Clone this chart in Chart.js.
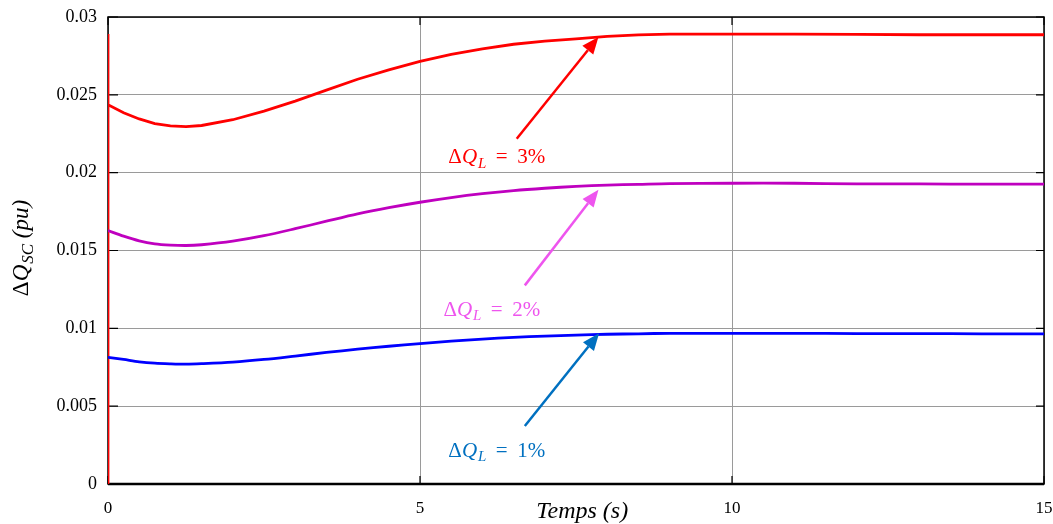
<!DOCTYPE html>
<html><head><meta charset="utf-8">
<script src="https://cdn.jsdelivr.net/npm/chart.js@4.4.1/dist/chart.umd.min.js"></script>
<style>html,body{margin:0;padding:0;background:#fff}#wrap{width:1053px;height:524px}</style>
</head><body><div id="wrap"><canvas id="c" width="1053" height="524"></canvas></div>
<script>
const times = [0,0.25,0.5,0.75,1,1.25,1.5,2,2.5,3,3.5,4,4.5,5,5.5,6,6.5,7,7.5,8,8.5,9,10,11,12,13,14,15];
const dq3 = [0.02436,0.02385,0.02345,0.02315,0.02300,0.02296,0.02303,0.02340,0.02395,0.02460,0.02530,0.02600,0.02660,0.02715,0.02760,0.02795,0.02825,0.02845,0.02860,0.02875,0.02885,0.0289,0.0289,0.0289,0.02888,0.02886,0.02886,0.02886];
const dq2 = [0.01628,0.01592,0.01562,0.01543,0.01535,0.01532,0.01537,0.01560,0.01595,0.01640,0.01688,0.01735,0.01775,0.01810,0.01840,0.01865,0.01885,0.01900,0.01912,0.01920,0.01925,0.01930,0.01932,0.01932,0.01928,0.01928,0.01926,0.01926];
const dq1 = [0.00814,0.00800,0.00785,0.00776,0.00772,0.00770,0.00773,0.00783,0.00800,0.00822,0.00845,0.00866,0.00885,0.00902,0.00918,0.00931,0.00942,0.00950,0.00956,0.00962,0.00965,0.00968,0.00968,0.00968,0.00966,0.00966,0.00965,0.00965];
// initial vertical transient of the 3% trace at t = 0
const spikeT = [0,0];
const spikeV = [0,0.0289];
const xTicks = [0,5,10,15];
const yTicks = [0,0.005,0.01,0.015,0.02,0.025,0.03];
const yTickLabels = ['0','0.005','0.01','0.015','0.02','0.025','0.03'];
const xTitle = 'Temps (s)';
// annotations: label, text position [t,v], arrow tail [t,v], arrow head [t,v], colour
const annLabels = ['3%','2%','1%'];
const annText = [[6.23,0.02096],[6.15,0.01115],[6.23,0.00212]];
const annTail = [[6.55,0.02218],[6.68,0.01276],[6.68,0.00372]];
const annHead = [[7.86,0.02872],[7.86,0.01890],[7.87,0.00968]];
const annColors = ['#ff0000','#ee55ee','#0070c0'];

function pts(xs, ys){ return xs.map((x,i)=>({x:x,y:ys[i]})); }

const annPlugin = {
  id:'ann',
  beforeDatasetsDraw(chart){
    const ctx = chart.ctx, a = chart.chartArea, xs = chart.scales.x, ys = chart.scales.y;
    ctx.save();
    ctx.strokeStyle = '#000';
    ctx.lineWidth = 1.5;
    ctx.strokeRect(a.left, a.top, a.right-a.left, a.bottom-a.top);
    ctx.lineWidth = 2.5;
    ctx.beginPath(); ctx.moveTo(a.left, a.bottom); ctx.lineTo(a.right, a.bottom); ctx.stroke();
    // inward tick marks
    ctx.lineWidth = 1.2;
    ctx.beginPath();
    yTicks.forEach(v=>{ const y = ys.getPixelForValue(v);
      ctx.moveTo(a.left, y); ctx.lineTo(a.left+10, y);
      ctx.moveTo(a.right, y); ctx.lineTo(a.right-8, y); });
    xTicks.forEach(v=>{ const x = xs.getPixelForValue(v);
      ctx.moveTo(x, a.bottom); ctx.lineTo(x, a.bottom-8);
      ctx.moveTo(x, a.top); ctx.lineTo(x, a.top+8); });
    ctx.stroke();
    ctx.restore();
  },
  afterDatasetsDraw(chart){
    const ctx = chart.ctx, xs = chart.scales.x, ys = chart.scales.y;
    ctx.save();
    for (let i=0;i<annLabels.length;i++){
      const col = annColors[i];
      const x0 = xs.getPixelForValue(annTail[i][0]), y0 = ys.getPixelForValue(annTail[i][1]);
      const x1 = xs.getPixelForValue(annHead[i][0]), y1 = ys.getPixelForValue(annHead[i][1]);
      const ang = Math.atan2(y1-y0, x1-x0);
      const hl = 17, hw = 7;
      const bx = x1 - hl*Math.cos(ang), by = y1 - hl*Math.sin(ang);
      ctx.strokeStyle = col; ctx.fillStyle = col; ctx.lineWidth = 2.5;
      ctx.beginPath(); ctx.moveTo(x0,y0); ctx.lineTo(bx,by); ctx.stroke();
      ctx.beginPath();
      ctx.moveTo(x1,y1);
      ctx.lineTo(bx + hw*Math.sin(ang), by - hw*Math.cos(ang));
      ctx.lineTo(bx - hw*Math.sin(ang), by + hw*Math.cos(ang));
      ctx.closePath(); ctx.fill();
      const tx = xs.getPixelForValue(annText[i][0]), ty = ys.getPixelForValue(annText[i][1]);
      drawMath(ctx, tx, ty, 'L', ' \u2009=\u2009 '+annLabels[i], col, 21);
    }
    ctx.restore();
  },
  afterDraw(chart){
    const ctx = chart.ctx, xs = chart.scales.x, a = chart.chartArea;
    ctx.save();
    ctx.translate(22, 248);
    ctx.rotate(-Math.PI/2);
    drawMath(ctx, 0, 0, 'SC', ' (pu)', '#000', 23, true);
    ctx.restore();
    ctx.save();
    ctx.fillStyle = '#000';
    ctx.font = 'italic 24px "Liberation Serif"';
    ctx.textAlign = 'center'; ctx.textBaseline = 'middle';
    ctx.fillText(xTitle, xs.getPixelForValue(7.6), a.bottom + 28);
    ctx.restore();
  }
};

function drawMath(ctx, cx, cy, sub, rest, col, size, italicRest){
  const up = size+'px "Liberation Serif"';
  const it = 'italic '+size+'px "Liberation Serif"';
  const sb = 'italic '+Math.round(size*0.72)+'px "Liberation Serif"';
  const restFont = italicRest ? it : up;
  ctx.font = up; const w1 = ctx.measureText('\u0394').width;
  ctx.font = it; const w2 = ctx.measureText('Q').width + 1;
  ctx.font = sb; const w3 = ctx.measureText(sub).width;
  ctx.font = restFont; const w4 = ctx.measureText(rest).width;
  let x = cx - (w1+w2+w3+w4)/2;
  ctx.fillStyle = col; ctx.textBaseline = 'middle'; ctx.textAlign = 'left';
  ctx.font = up; ctx.fillText('\u0394', x, cy); x += w1;
  ctx.font = it; ctx.fillText('Q', x, cy); x += w2;
  ctx.font = sb; ctx.fillText(sub, x, cy + size*0.28); x += w3;
  ctx.font = restFont; ctx.fillText(rest, x, cy);
}

new Chart(document.getElementById('c'), {
  type:'line',
  data:{ datasets:[
    { data: pts(times, dq1), borderColor:'#0000ff', borderWidth:2.8, pointRadius:0, tension:0.3 },
    { data: pts(times, dq2), borderColor:'#bf00bf', borderWidth:2.8, pointRadius:0, tension:0.3 },
    { data: pts(spikeT.concat(times), spikeV.concat(dq3)), borderColor:'#ff0000', borderWidth:2.8, pointRadius:0, tension:0 }
  ]},
  options:{
    responsive:false, animation:false, events:[],
    layout:{ padding:{ left:0, top:17, right:9, bottom:0 } },
    plugins:{ legend:{display:false}, tooltip:{enabled:false} },
    scales:{
      x:{ type:'linear', min:0, max:15,
        afterBuildTicks(s){ s.ticks = xTicks.map(v=>({value:v})); },
        afterFit(s){ s.height = 40; s.paddingLeft = 0; s.paddingRight = 0; },
        grid:{ color:'#9a9a9a', lineWidth:1, drawTicks:false },
        border:{ display:false },
        ticks:{ padding:14, color:'#000', font:{ family:'"Liberation Serif"', size:17 }, maxRotation:0,
          callback:(v)=>String(v) }
      },
      y:{ type:'linear', min:0, max:0.03,
        afterBuildTicks(s){ s.ticks = yTicks.map(v=>({value:v})); },
        afterFit(s){ s.width = 108; s.paddingTop = 0; s.paddingBottom = 0; },
        grid:{ color:'#9a9a9a', lineWidth:1, drawTicks:false },
        border:{ display:false },
        ticks:{ padding:11, color:'#000', font:{ family:'"Liberation Serif"', size:18 },
          callback:(v)=>{ const i = yTicks.findIndex(t=>Math.abs(t-v)<1e-9); return i>=0 ? yTickLabels[i] : ''; } }
      }
    }
  },
  plugins:[annPlugin]
});
</script></body></html>
